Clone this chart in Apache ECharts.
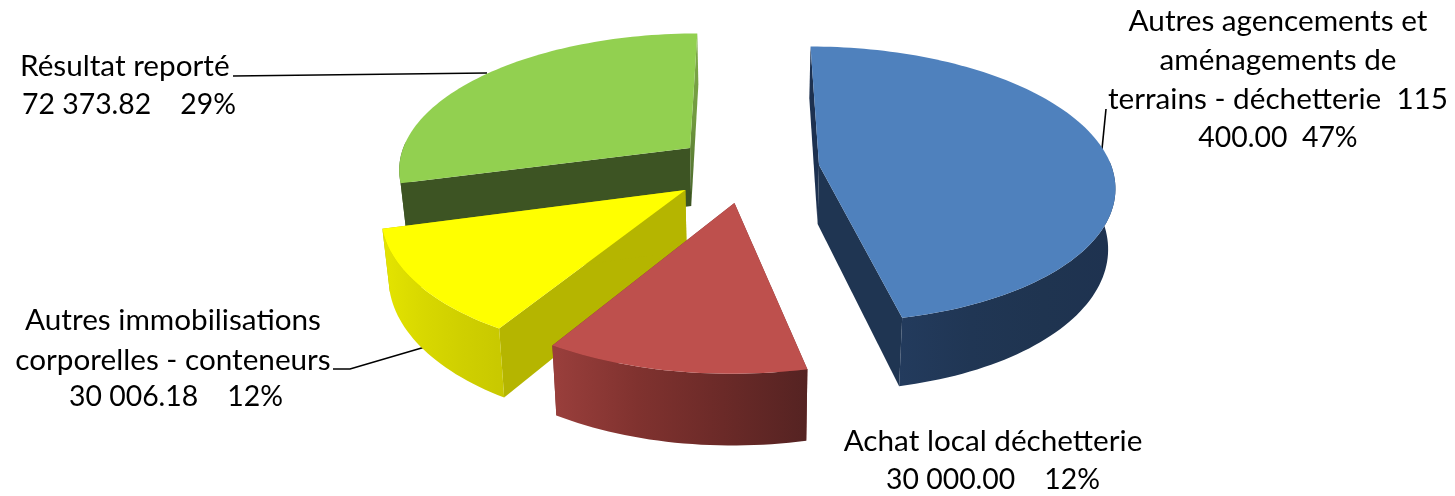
<!DOCTYPE html>
<html>
<head>
<meta charset="utf-8">
<style>html,body{margin:0;padding:0;background:#fff}#c{width:1455px;height:496px}</style>
<script src="https://cdn.jsdelivr.net/npm/echarts@6/dist/echarts.min.js"></script>
</head>
<body>
<div id="c"></div>
<script>
// ----- data -----
var categories = ['Autres agencements et aménagements de terrains - déchetterie', 'Achat local déchetterie', 'Autres immobilisations corporelles - conteneurs', 'Résultat reporté'];
var values = [115400.00, 30000.00, 30006.18, 72373.82];
var blueLabelLines = ['Autres agencements et', 'aménagements de', 'terrains - déchetterie  115', '400.00  47%'];
var redLabelLines = ['Achat local déchetterie', '30 000.00    12%'];
var yellowLabelLines = ['Autres immobilisations', 'corporelles - conteneurs'];
var yellowValueLine = ['30 006.18    12%'];
var greenLabelLines = ['Résultat reporté', '72 373.82    29%'];

// ----- 3D layout -----
var VX = 750, VY = -800, H = 965, U0 = 1 / 965, CZ = 1.45e-4, R = 292, DEPTH = 59, BOTTOM_SCALE = 0.98;
var explodeX = [69, -15, -63, -61];
var explodeZ = [0, -0.271, -0.181, 0.128];
var drawOrder = [3, 0, 2, 1];
var fontFamily = 'Lato, "Open Sans", sans-serif';
var fontSize = 29.7, numberFontSize = 28.4;

function grad(stops, vertical) {
  return { type: 'linear', x: 0, y: 0, x2: vertical ? 0 : 1, y2: vertical ? 1 : 0,
    colorStops: stops.map(function (c, i) { return { offset: i / (stops.length - 1), color: c }; }) };
}
var palette = [
  { top: '#4F81BD', rim: grad(['#233B5D', '#203654', '#1f3450', '#1e3250']), startCut: '#1D3150', endCut: '#1F3552' },
  { top: '#BE504D', rim: grad(['#9A3F3C', '#80322F', '#6B2A28', '#552322']), startCut: '#7d302e', endCut: '#7d302e' },
  { top: '#FFFF00', rim: grad(['#E4E400', '#D8D800', '#CFCF00', '#C8C800']), startCut: '#B5B500', endCut: '#B5B500' },
  { top: '#92D050', rim: grad(['#3D5423', '#3D5423']), startCut: '#3D5423', endCut: grad(['#7FAB4A', '#71993F', '#456229'], true) }
];

var total = values.reduce(function (a, b) { return a + b; }, 0);
var starts = [], run = 0;
values.forEach(function (v) { starts.push(run / total * 360); run += v; });

function project(X, Z, drop) {
  var w = U0 / (U0 + CZ * Z);
  var sx = VX + X * w * (drop ? BOTTOM_SCALE : 1);
  return [sx, VY + (H + drop) * w];
}

var seriesData = drawOrder.map(function (i) {
  return [i, values[i], starts[i]];
});

function renderItem(params, api) {
  var i = api.value(0);
  var start = api.value(2);
  var sweep = api.value(1) / total * 360;
  var ex = explodeX[i], ez = explodeZ[i], pal = palette[i];
  var rimTop = [], rimBot = [], visTop = [], visBot = [];
  var n = Math.max(8, Math.ceil(sweep / 1.5));
  for (var k = 0; k <= n; k++) {
    var a = (start + sweep * k / n) * Math.PI / 180;
    var X = ex + R * Math.sin(a), Z = ez + Math.cos(a);
    var t = project(X, Z, 0), b = project(X, Z, DEPTH);
    rimTop.push(t);
    rimBot.push(b);
    if (Math.cos(a) < 0.05) { visTop.push(t); visBot.push(b); }
  }
  var cT = project(ex, ez, 0), cB = project(ex, ez, DEPTH);
  function poly(points, fill) {
    return { type: 'polygon', shape: { points: points }, style: { fill: fill, stroke: null }, silent: true };
  }
  return {
    type: 'group',
    children: [
      poly([cT, rimTop[0], rimBot[0], cB], pal.startCut),
      poly([cT, rimTop[n], rimBot[n], cB], pal.endCut),
      poly(visTop.concat(visBot.slice().reverse()), pal.rim),
      poly([cT].concat(rimTop), pal.top)
    ]
  };
}

function textBlock(lines, x, y, align) {
  return lines.map(function (s, j) {
    var size = /^[0-9]/.test(s) ? numberFontSize : fontSize;
    return { type: 'text', x: x, y: y[j], silent: true,
      style: { text: s, fill: '#000', font: size + 'px ' + fontFamily, textAlign: align, textVerticalAlign: 'middle' } };
  });
}
function leader(points) {
  return { type: 'polyline', silent: true, shape: { points: points }, style: { stroke: '#000', lineWidth: 1.6, fill: null } };
}

var graphics = []
  .concat(textBlock(blueLabelLines, 1278, [21, 60, 99, 138], 'center'))
  .concat(textBlock(redLabelLines, 993, [441, 480], 'center'))
  .concat(textBlock(yellowLabelLines, 173, [320, 360], 'center'))
  .concat(textBlock(yellowValueLine, 176, [397], 'center'))
  .concat(textBlock([greenLabelLines[0]], 20, [66], 'left'))
  .concat(textBlock([greenLabelLines[1]], 22, [105], 'left'))
  .concat([
    leader([[233, 76], [487, 73]]),
    leader([[333, 369], [350, 369], [425, 347]]),
    leader([[1106, 109], [1102, 149]])
  ]);

var chart = echarts.init(document.getElementById('c'), null, { renderer: 'canvas' });
chart.setOption({
  animation: false,
  backgroundColor: '#fff',
  series: [{
    type: 'custom',
    coordinateSystem: 'none',
    renderItem: renderItem,
    data: seriesData,
    silent: true
  }],
  graphic: graphics
});
</script>
</body>
</html>
